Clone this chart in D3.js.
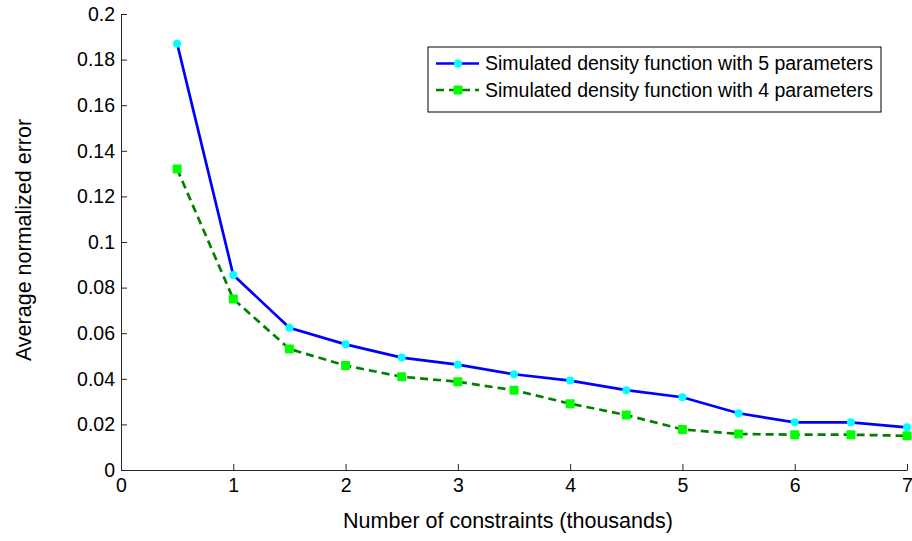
<!DOCTYPE html>
<html>
<head>
<meta charset="utf-8">
<script src="https://cdn.jsdelivr.net/npm/d3@7"></script>
<style>
  body { margin: 0; background: #fff; }
  svg text { font-family: "Liberation Sans", Arial, sans-serif; fill: #000; }
</style>
</head>
<body>
<svg id="chart" width="912" height="541"></svg>
<script>
// data
const constraints = [0.5, 1, 1.5, 2, 2.5, 3, 3.5, 4, 4.5, 5, 5.5, 6, 6.5, 7];
const error5 = [0.187, 0.0855, 0.0624, 0.0551, 0.0493, 0.0462, 0.042, 0.0392, 0.035, 0.0319, 0.0249, 0.0209, 0.0209, 0.0187];
const error4 = [0.132, 0.075, 0.0531, 0.0458, 0.0409, 0.0387, 0.035, 0.0291, 0.0241, 0.0178, 0.0158, 0.0155, 0.0155, 0.015];
const xTicks = [0, 1, 2, 3, 4, 5, 6, 7];
const yTicks = [0, 0.02, 0.04, 0.06, 0.08, 0.1, 0.12, 0.14, 0.16, 0.18, 0.2];
const seriesNames = ['Simulated density function with 5 parameters', 'Simulated density function with 4 parameters'];

let svg = d3.select('#chart');

let plotLeft = 121, plotRight = 907, plotTop = 14, plotBottom = 470;

let x = d3.scaleLinear().domain([0, 7]).range([plotLeft, plotRight]);
let y = d3.scaleLinear().domain([0, 0.2]).range([plotBottom, plotTop]);

// axes, MATLAB style: ticks pointing inward, no box
let xAxis = d3.axisBottom(x)
              .tickValues(xTicks)
              .tickSizeInner(-6)
              .tickSizeOuter(0)
              .tickPadding(8)
              .tickFormat(d3.format('d'));

let yAxis = d3.axisLeft(y)
              .tickValues(yTicks)
              .tickSizeInner(-6)
              .tickSizeOuter(0)
              .tickPadding(6)
              .tickFormat(d => d === 0 ? '0' : String(+d.toFixed(2)));

let gx = svg.append('g')
            .attr('transform', `translate(0,${plotBottom})`)
            .call(xAxis);

let gy = svg.append('g')
            .attr('transform', `translate(${plotLeft},0)`)
            .call(yAxis);

[gx, gy].forEach(g => {
    g.selectAll('path, line').attr('stroke', '#262626').attr('stroke-width', 1);
    g.selectAll('text').style('font-size', '19.5px');
});
gx.selectAll('text').attr('dy', '0.71em');

svg.append('text')
   .attr('x', 508)
   .attr('y', 528)
   .attr('text-anchor', 'middle')
   .style('font-size', '21.5px')
   .text('Number of constraints (thousands)');

svg.append('text')
   .attr('transform', 'translate(31,240) rotate(-90)')
   .attr('text-anchor', 'middle')
   .style('font-size', '21.5px')
   .text('Average normalized error');

let line = d3.line()
             .x(d => x(d[0]))
             .y(d => y(d[1]));

let data5 = constraints.map((c, i) => [c, error5[i]]);
let data4 = constraints.map((c, i) => [c, error4[i]]);

svg.append('path')
   .datum(data4)
   .attr('d', line)
   .attr('fill', 'none')
   .attr('stroke', '#008000')
   .attr('stroke-width', 2.7)
   .attr('stroke-dasharray', '8,5');

svg.append('path')
   .datum(data5)
   .attr('d', line)
   .attr('fill', 'none')
   .attr('stroke', '#0000ff')
   .attr('stroke-width', 2.7);

svg.selectAll('.sq')
   .data(data4)
   .enter()
   .append('rect')
   .attr('class', 'sq')
   .attr('x', d => x(d[0]) - 4.5)
   .attr('y', d => y(d[1]) - 4.5)
   .attr('width', 9)
   .attr('height', 9)
   .attr('rx', 1)
   .attr('fill', '#00ff00');

svg.selectAll('.dot')
   .data(data5)
   .enter()
   .append('circle')
   .attr('class', 'dot')
   .attr('cx', d => x(d[0]))
   .attr('cy', d => y(d[1]))
   .attr('r', 4)
   .attr('fill', '#00ffff');

// legend
let legend = svg.append('g').attr('transform', 'translate(428,47)');

legend.append('rect')
      .attr('width', 453)
      .attr('height', 65)
      .attr('fill', '#fff')
      .attr('stroke', '#000')
      .attr('stroke-width', 1);

let rows = [
    {name: seriesNames[0], color: '#0000ff', dash: null, marker: 'circle'},
    {name: seriesNames[1], color: '#008000', dash: '8,5', marker: 'square'}
];

rows.forEach((r, i) => {
    let ry = 16.5 + i * 26.5;
    legend.append('line')
          .attr('x1', 8).attr('x2', 51)
          .attr('y1', ry).attr('y2', ry)
          .attr('stroke', r.color)
          .attr('stroke-width', 2.7)
          .attr('stroke-dasharray', r.dash);
    if (r.marker === 'circle') {
        legend.append('circle')
              .attr('cx', 30).attr('cy', ry).attr('r', 4)
              .attr('fill', '#00ffff');
    } else {
        legend.append('rect')
              .attr('x', 25.5).attr('y', ry - 4.5)
              .attr('width', 9).attr('height', 9)
              .attr('rx', 1)
              .attr('fill', '#00ff00');
    }
    legend.append('text')
          .attr('x', 57)
          .attr('y', ry)
          .attr('dy', '0.35em')
          .style('font-size', '19.5px')
          .text(r.name);
});
</script>
</body>
</html>
